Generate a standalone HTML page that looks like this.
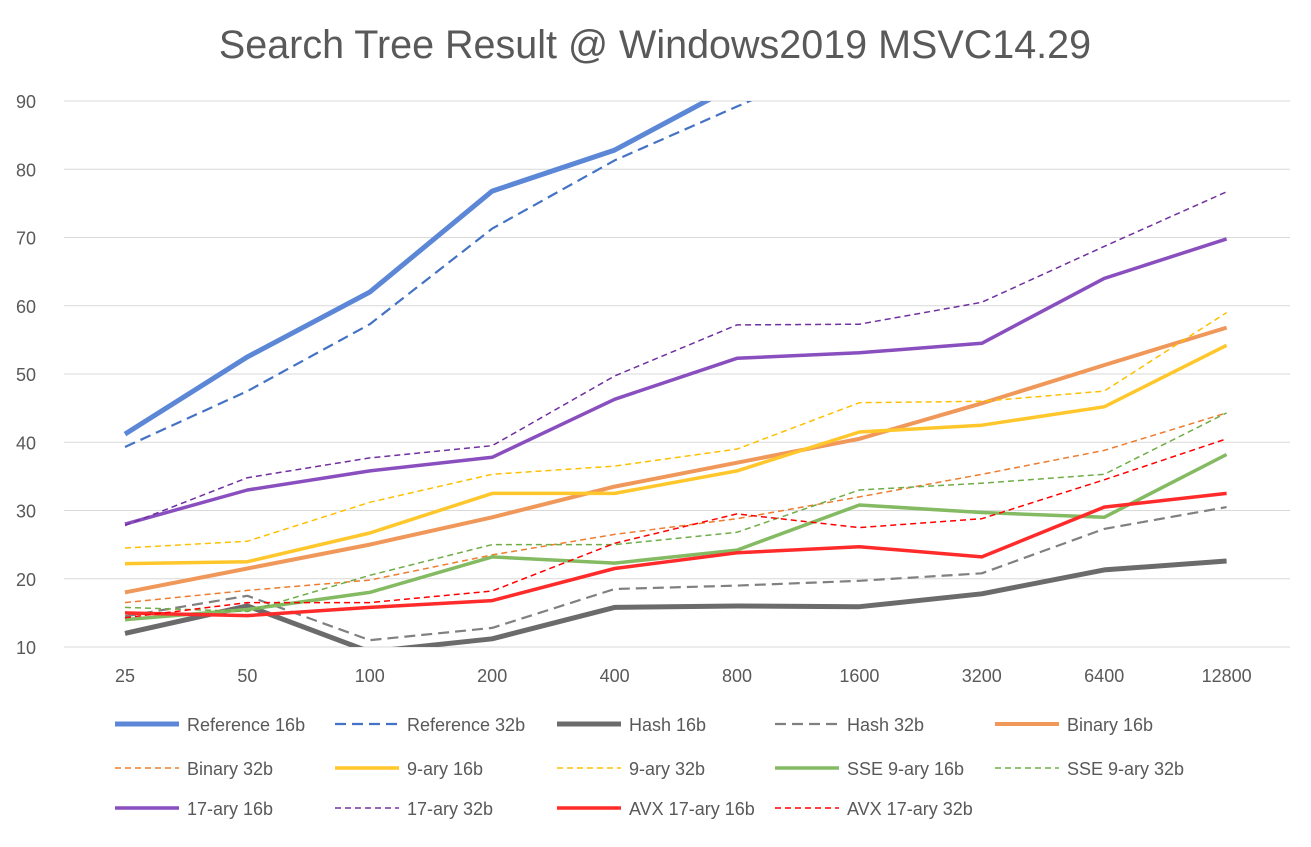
<!DOCTYPE html>
<html><head><meta charset="utf-8"><style>
body{margin:0;background:#fff;width:1311px;height:842px;overflow:hidden;font-family:"Liberation Sans",sans-serif}
svg text{font-family:"Liberation Sans",sans-serif;fill:#595959}
</style></head><body>
<svg id="chart" width="1311" height="842">
<text x="655" y="58" text-anchor="middle" font-size="39.5">Search Tree Result @ Windows2019 MSVC14.29</text>
<defs><clipPath id="plotclip"><rect x="64" y="101" width="1230" height="546"/></clipPath></defs>
<g id="grid"></g><g id="series" clip-path="url(#plotclip)"></g><g id="axes"></g><g id="legend"></g>
</svg>
<script>
const categories=["25","50","100","200","400","800","1600","3200","6400","12800"];
const yTicks=[10,20,30,40,50,60,70,80,90];
const ref16=[41.2,52.5,62,76.8,82.8,92.4,100,100,100,100];
const ref32=[39.3,47.5,57.3,71.3,81.3,89.2,97,100,100,100];
const hash16=[12,16,9.3,11.2,15.8,16,15.9,17.8,21.3,22.6];
const hash32=[14.5,17.5,11,12.8,18.5,19,19.7,20.8,27.3,30.5];
const bin16=[18,21.5,25,29,33.5,37,40.5,45.7,51.3,56.8];
const bin32=[16.5,18.3,19.8,23.5,26.5,28.8,32,35.3,38.8,44.3];
const ary9_16=[22.2,22.5,26.7,32.5,32.5,35.8,41.5,42.5,45.2,54.2];
const ary9_32=[24.5,25.5,31.2,35.3,36.5,39,45.8,46,47.5,59];
const sse16=[14,15.5,18,23.2,22.3,24.2,30.8,29.7,29,38.2];
const sse32=[15.8,15.2,20.5,25,25,26.8,33,34,35.3,44.3];
const ary17_16=[28,33,35.8,37.8,46.3,52.3,53.1,54.5,64,69.8];
const ary17_32=[27.8,34.8,37.7,39.5,49.7,57.2,57.3,60.5,68.7,76.7];
const avx16=[15,14.6,15.8,16.8,21.5,23.8,24.7,23.2,30.5,32.5];
const avx32=[14.3,16.5,16.5,18.2,25.2,29.5,27.5,28.8,34.5,40.5];
const NS="http://www.w3.org/2000/svg";
const x=i=>125+i*122.4;
const y=v=>647-(v-10)*546/80;
function mk(tag,attrs,parent){const e=document.createElementNS(NS,tag);for(const k in attrs)e.setAttribute(k,attrs[k]);parent.appendChild(e);return e;}
const grid=document.getElementById('grid'),axes=document.getElementById('axes'),ser=document.getElementById('series'),leg=document.getElementById('legend');
yTicks.forEach(t=>{
 const l=mk('line',{x1:64,x2:1290,y1:y(t),y2:y(t),stroke:'#d9d9d9','stroke-width':1},grid);
 
 
 const tx=mk('text',{x:36,y:y(t)+7,'text-anchor':'end','font-size':18},axes);tx.textContent=t;
 
 
});
categories.forEach((c,i)=>{
 const tx=mk('text',{x:x(i),y:682,'text-anchor':'middle','font-size':18},axes);tx.textContent=c;
 
 
});
const series=[
 ["Reference 16b",ref16,"#5b87d6",5,""],["Reference 32b",ref32,"#4472c4",2.2,"11,6"],
 ["Hash 16b",hash16,"#6b6b6b",5,""],["Hash 32b",hash32,"#808080",2.2,"11,6"],
 ["Binary 16b",bin16,"#f0975a",4,""],["Binary 32b",bin32,"#ed7d31",1.5,"6,4"],
 ["9-ary 16b",ary9_16,"#ffc72c",3.5,""],["9-ary 32b",ary9_32,"#ffc000",1.5,"6,4"],
 ["SSE 9-ary 16b",sse16,"#84bb62",3.5,""],["SSE 9-ary 32b",sse32,"#70ad47",1.5,"6,4"],
 ["17-ary 16b",ary17_16,"#8a4fbf",3.5,""],["17-ary 32b",ary17_32,"#7030a0",1.5,"6,4"],
 ["AVX 17-ary 16b",avx16,"#ff2a2a",3.5,""],["AVX 17-ary 32b",avx32,"#ff0000",1.5,"6,4"]
];
const colX=[115,335,557,775,995],rowY=[724,768,808];
series.forEach((s,k)=>{
 const d=s[1].map((v,i)=>(i?'L':'M')+x(i).toFixed(1)+','+y(v).toFixed(1)).join(' ');
 const p=mk('path',{d:d,fill:'none',stroke:s[2],'stroke-width':s[3],'stroke-dasharray':s[4],'stroke-linejoin':'round'},ser);
 
 
 const cx=colX[k%5],cy=rowY[Math.floor(k/5)];
 const g=mk('g',{},leg);
 
 
 mk('line',{x1:cx,x2:cx+64,y1:cy,y2:cy,stroke:s[2],'stroke-width':s[3],'stroke-dasharray':s[4]},g);
 const t=mk('text',{x:cx+72,y:cy+7,'font-size':18},g);t.textContent=s[0];
});
</script>
</body></html>
